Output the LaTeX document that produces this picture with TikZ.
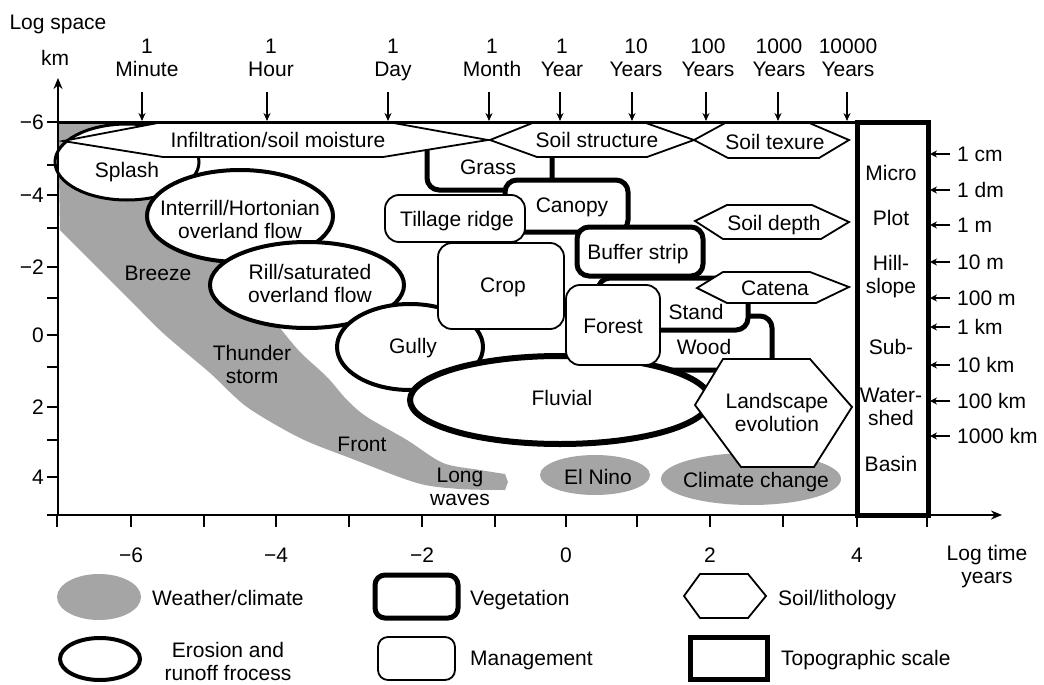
\documentclass[tikz,border=0pt]{standalone}
\usepackage{fontspec}
\setmainfont{Liberation Sans}
\usetikzlibrary{arrows.meta}
\definecolor{wgray}{RGB}{165,165,165}
\begin{document}
\begin{tikzpicture}[x=1pt,y=-1pt,
  font=\fontsize{21}{23}\selectfont,
  erosion/.style={draw,line width=4pt,fill=white},
  veg/.style={draw,line width=5pt,rounded corners=12pt,fill=white},
  mgmt/.style={draw,line width=1.8pt,rounded corners=14pt,fill=white},
  soil/.style={draw,line width=1.8pt,fill=white,line join=miter},
  wx/.style={fill=wgray},
  lbl/.style={inner sep=0pt,align=center,execute at begin node=\strut,yshift=-2.5pt},
  axisline/.style={line width=2.2pt},
  tickline/.style={line width=2pt},
  downarr/.style={line width=2.2pt,-{Stealth[length=8pt,width=7pt]}},
  leftarr/.style={line width=2.5pt,-{Stealth[length=7pt,width=7pt]}}]
\useasboundingbox[fill=white] (0,0) rectangle (1044,685);

% weather/climate region
\fill[wx] (58,122) -- (165,122) -- (165,150) -- (150,190) -- (200,240) -- (255,290)
  -- plot[smooth,tension=0.5] coordinates {(280,328) (300,352) (327,377) (347,400) (367,417) (407,440) (443,463) (480,470) (505,474)}
  -- (508,482)
  -- plot[smooth,tension=0.5] coordinates {(505,490) (460,489) (417,483) (350,458) (300,438) (247,407) (210,373) (163,333) (127,297) (60,230)}
  -- cycle;
\fill[wx] (595,475) ellipse [x radius=55,y radius=20];
\fill[wx] (751,479) ellipse [x radius=90,y radius=26];

% erosion and runoff processes
\draw[erosion,line width=3pt] (127,162) ellipse [x radius=72,y radius=38];
\draw[erosion] (240,216) ellipse [x radius=93,y radius=46];
\draw[erosion] (307,285) ellipse [x radius=97,y radius=43];
\draw[erosion] (410,347) ellipse [x radius=73,y radius=43];

% vegetation
\draw[veg,fill=none] (427,148) -- (427,190) -- (552,190) -- (552,150);
\draw[veg] (505,180) rectangle (628,232);
\draw[veg] (640,316) rectangle (772,370);
\draw[veg] (598,278) rectangle (748,330);

\draw[erosion,line width=6pt] (560,400) ellipse [x radius=150,y radius=44];

\draw[veg] (577,227) rectangle (703,276);

% management
\draw[mgmt] (385,195) rectangle (525,242);
\draw[mgmt] (438,243) rectangle (564,329);
\draw[mgmt] (566,285) rectangle (660,365);

% soil / lithology
\draw[soil] (63,141) -- (163,122) -- (388,122) -- (488,140) -- (383,157) -- (163,157) -- cycle;
\draw[soil] (490,140) -- (535,122) -- (643,122) -- (694,140) -- (647,157) -- (537,157) -- cycle;
\draw[soil] (694,140) -- (727,122) -- (807,122) -- (849,140) -- (819,158) -- (728,158) -- cycle;
\draw[soil] (695,221) -- (727,205) -- (812,205) -- (849,222) -- (821,239) -- (723,239) -- cycle;
\draw[soil] (697,288) -- (723,272) -- (810,272) -- (849,287) -- (816,303) -- (727,303) -- cycle;
\draw[soil] (695,405) -- (723,359) -- (810,359) -- (852,407) -- (814,467) -- (741,467) -- cycle;

% labels inside the plot
\node[lbl] (tInf) at (278,140) {Infiltration/soil moisture};
\node[lbl] (tStruct) at (597,140) {Soil structure};
\node[lbl] (tTex) at (775,142) {Soil texure};
\node[lbl] (tSplash) at (127,170) {Splash};
\node[lbl] (tGrass) at (488,167) {Grass};
\node[lbl] (tCanopy) at (572,205) {Canopy};
\node[lbl] (tInter) at (240,220) {Interrill/Hortonian\\\strut overland flow};
\node[lbl] (tTill) at (457,219) {Tillage ridge};
\node[lbl] (tDepth) at (774,223) {Soil depth};
\node[lbl] (tBuffer) at (638,252) {Buffer strip};
\node[lbl] (tBreeze) at (158,273) {Breeze};
\node[lbl] (tRill) at (310,284) {Rill/saturated\\\strut overland flow};
\node[lbl] (tCrop) at (503,285) {Crop};
\node[lbl] (tCatena) at (775,288) {Catena};
\node[lbl] (tStand) at (696,312) {Stand};
\node[lbl] (tForest) at (613,326) {Forest};
\node[lbl] (tGully) at (413,346) {Gully};
\node[lbl] (tWood) at (704,347) {Wood};
\node[lbl] (tThunder) at (252,365) {Thunder\\\strut storm};
\node[lbl] (tFluvial) at (562,398) {Fluvial};
\node[lbl] (tLand) at (777,413) {Landscape\\\strut evolution};
\node[lbl] (tFront) at (362,444) {Front};
\node[lbl] (tLong) at (460,488) {Long\\\strut waves};
\node[lbl] (tNino) at (598,477) {El Nino};
\node[lbl] (tClim) at (756,480) {Climate change};

% topographic scale column
\draw[line width=5pt] (857,122) rectangle (928,515);
\node[lbl] (cMicro) at (891,173) {Micro};
\node[lbl] (cPlot) at (891,218) {Plot};
\node[lbl] (cHill) at (891,275) {Hill-\\\strut slope};
\node[lbl] (cSub) at (891,347) {Sub-};
\node[lbl] (cWater) at (891,408) {Water-\\\strut shed};
\node[lbl] (cBasin) at (891,464) {Basin};

% top line and axes
\draw[line width=3pt] (58,122) -- (857,122);
\draw[axisline,-{Stealth[length=11pt,width=9pt]}] (58,515) -- (58,78);
\draw[axisline,-{Stealth[length=11pt,width=9pt]}] (58,515) -- (1002,515);
\foreach \yy in {122,165,195,228,267,298,335,367,407,440,477,515}
  \draw[tickline] (47,\yy) -- (58,\yy);
\foreach \xx in {57,131,204,276,349,422,495,566,637,710,783,857,927}
  \draw[tickline] (\xx,515) -- (\xx,527);
\node[lbl,anchor=east] (yA) at (44,122) {−6};
\node[lbl,anchor=east] (yB) at (44,195) {−4};
\node[lbl,anchor=east] (yC) at (44,267) {−2};
\node[lbl,anchor=east] (yD) at (44,335) {0};
\node[lbl,anchor=east] (yE) at (44,407) {2};
\node[lbl,anchor=east] (yF) at (44,477) {4};
\node[lbl] (xA) at (131,555) {−6};
\node[lbl] (xB) at (276,555) {−4};
\node[lbl] (xC) at (422,555) {−2};
\node[lbl] (xD) at (566,555) {0};
\node[lbl] (xE) at (710,555) {2};
\node[lbl] (xF) at (857,555) {4};
\node[lbl] (logtime) at (987,565) {Log time\\\strut years};
\node[lbl] (logspace) at (58,22) {Log space};
\node[lbl] (km) at (55,58) {km};

% time markers on top
\foreach \n/\ax in {mi/142,ho/267,da/388,mo/489,ye/560,y1/632,y2/706,y3/778,y4/847}{
  \coordinate (s\n) at (\ax,92);
  \coordinate (e\n) at (\ax,121);
  \draw[downarr] (s\n) -- (e\n);
}
\node[lbl] (lmi) at (147,59) {1\\\strut Minute};
\node[lbl] (lho) at (271,59) {1\\\strut Hour};
\node[lbl] (lda) at (393,59) {1\\\strut Day};
\node[lbl] (lmo) at (492,59) {1\\\strut Month};
\node[lbl] (lye) at (562,59) {1\\\strut Year};
\node[lbl] (ly1) at (636,59) {10\\\strut Years};
\node[lbl] (ly2) at (708,59) {100\\\strut Years};
\node[lbl] (ly3) at (779,59) {1000\\\strut Years};
\node[lbl] (ly4) at (848,59) {10000\\\strut Years};

% space markers on right
\foreach \n/\yy/\txt in {a/154/1 cm,b/190/1 dm,c/225/1 m,d/262/10 m,e/298/100 m,f/327/1 km,g/365/10 km,h/401/100 km,i/436/1000 km}{
  \coordinate (rs\n) at (950,\yy);
  \coordinate (re\n) at (930,\yy);
  \draw[leftarr] (rs\n) -- (re\n);
  \node[lbl,anchor=west] (rt\n) at (957,\yy) {\txt};
}

% legend
\fill[wx] (99,597) ellipse [x radius=42,y radius=23];
\node[lbl,anchor=west] (gWeather) at (152,598) {Weather/climate};
\draw[veg,rounded corners=10pt] (375,575) rectangle (458,618);
\node[lbl,anchor=west] (gVeg) at (470,598) {Vegetation};
\draw[soil] (684,596) -- (700,574) -- (748,574) -- (766,596) -- (748,618) -- (700,618) -- cycle;
\node[lbl,anchor=west] (gSoil) at (778,598) {Soil/lithology};
\draw[erosion] (100,659) ellipse [x radius=40,y radius=21];
\node[lbl] (gEro) at (228,662) {Erosion and\\\strut runoff frocess};
\draw[mgmt,rounded corners=10pt] (378,637) rectangle (455,680);
\node[lbl,anchor=west] (gMan) at (470,658) {Management};
\draw[line width=5pt] (690,637) rectangle (767,679);
\node[lbl,anchor=west] (gTopo) at (781,658) {Topographic scale};
\end{tikzpicture}
\end{document}
